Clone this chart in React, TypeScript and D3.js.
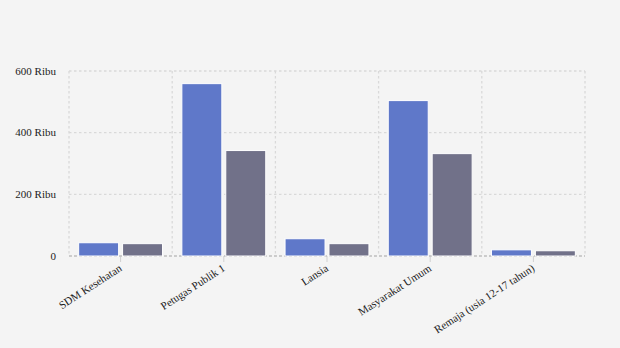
import React from "react";
import * as d3 from "d3";

const categories = ["SDM Kesehatan", "Petugas Publik 1", "Lansia", "Masyarakat Umum", "Remaja (usia 12-17 tahun)"];
const seriesNames = ["Dosis 1", "Dosis 2"];
const dose1 = [43, 559, 56, 504, 20];
const dose2 = [40, 342, 40, 332, 17];
const yTicks = [0, 200, 400, 600];
const yTickLabels = ["0", "200 Ribu", "400 Ribu", "600 Ribu"];
const colors = ["#5f78c9", "#717189"];

const W = 620;
const H = 348;
const M = { left: 69, right: 35, top: 71, bottom: 92 };

export default function App() {
  const x0 = d3.scaleBand<string>().domain(categories).range([M.left, W - M.right]).paddingInner(0).paddingOuter(0);
  const x1 = d3.scaleBand<string>().domain(seriesNames).range([0, x0.bandwidth()]).paddingInner(0.09).paddingOuter(0.22);
  const y = d3.scaleLinear().domain([0, 600]).range([H - M.bottom, M.top]);
  const values = [dose1, dose2];
  const font = "'Liberation Serif', 'Times New Roman', serif";
  const grid = "#d9d9d9";
  const edges = [...categories.map((c) => x0(c)!), W - M.right];

  return (
    <svg width={W} height={H} style={{ position: "absolute", left: 0, top: 0, background: "#f4f4f4" }}>
      <rect x={0} y={0} width={W} height={H} fill="#f4f4f4" />
      {yTicks.map((t) => (
        <line key={"h" + t} x1={M.left} x2={W - M.right} y1={y(t)} y2={y(t)} stroke={grid} strokeWidth={1.3} strokeDasharray="2.5,2.5" />
      ))}
      {edges.map((e, i) => (
        <line key={"v" + i} x1={e} x2={e} y1={M.top} y2={y(0)} stroke={grid} strokeWidth={1.3} strokeDasharray="2.5,2.5" />
      ))}
      {categories.map((c, i) => (
        <line key={"t" + i} x1={x0(c)! + x0.bandwidth() / 2} x2={x0(c)! + x0.bandwidth() / 2} y1={y(0)} y2={y(0) + 6} stroke="#d0d0d0" strokeWidth={1} />
      ))}
      <line x1={M.left} x2={W - M.right} y1={y(0)} y2={y(0)} stroke="#c4c4c4" strokeWidth={1.4} strokeDasharray="3,2" />
      {categories.map((c, i) =>
        seriesNames.map((s, j) => {
          const v = values[j][i];
          return (
            <rect
              key={c + s}
              x={x0(c)! + x1(s)!}
              y={y(v)}
              width={x1.bandwidth()}
              height={y(0) - y(v)}
              fill={colors[j]}
              stroke="#ffffff"
              strokeWidth={1}
            />
          );
        })
      )}
      {yTicks.map((t, i) => (
        <text key={"yl" + t} x={56} y={y(t)} dy="0.32em" textAnchor="end" fontFamily={font} fontSize={11} fill="#222">
          {yTickLabels[i]}
        </text>
      ))}
      {categories.map((c) => {
        const cx = x0(c)! + x0.bandwidth() / 2;
        return (
          <text key={"xl" + c} transform={`translate(${cx + 2},${y(0) + 14}) rotate(-33)`} textAnchor="end" fontFamily={font} fontSize={11} fill="#222">
            {c}
          </text>
        );
      })}
    </svg>
  );
}
